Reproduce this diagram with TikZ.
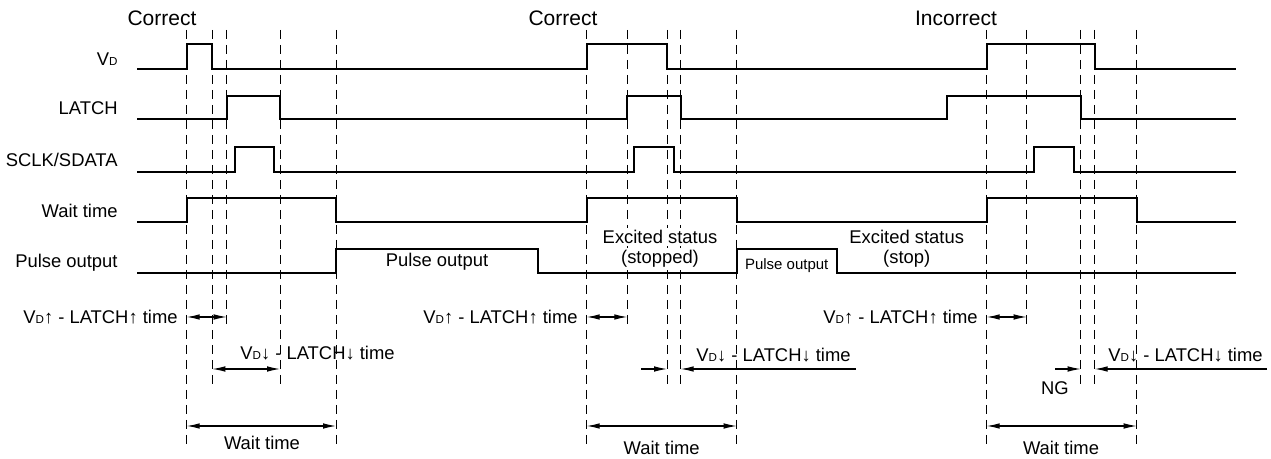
\documentclass[tikz,border=0pt]{standalone}
\usepackage{fontspec}
\setmainfont{Liberation Sans}
\usetikzlibrary{arrows.meta}
\newcommand{\vd}{V{\fontsize{5.8}{6}\selectfont D}}
\tikzset{
    >={Latex[length=6.5pt,width=2.8pt]}, % narrow filled arrow heads
    signal/.style={line width=1.1pt}, % the waveforms
    guide/.style={line width=0.45pt, dash pattern=on 4.5pt off 3pt}, % vertical timing marks
    dim/.style={line width=0.55pt}, % dimension lines
    every node/.style={font=\fontsize{9.2}{11}\selectfont, inner sep=1pt},
    title/.style={font=\fontsize{10.5}{12}\selectfont}, % Correct / Incorrect
    signame/.style={anchor=east}, % names on the left
    small/.style={font=\fontsize{7.5}{9}\selectfont},
}
\begin{document}
\begin{tikzpicture}[x=0.5pt,y=-0.5pt]
\useasboundingbox (0,0) rectangle (1271,459);
% timing marks
\foreach \x/\e in {186.7/448, 212.3/387, 226.7/327, 280/387, 336/448,
                   586.7/448, 627.3/327, 667/387, 680.7/387, 736.7/448,
                   986.7/448, 1026.7/327, 1080.7/387, 1094.7/387, 1136.7/448}
  \draw[guide] (\x,30) -- (\x,\e);

% titles
\node[title] (c1) at (162,18) {Correct};
\node[title] (c2) at (563,18) {Correct};
\node[title] (c3) at (956,18) {Incorrect};

% signal names
\node[signame] (nvd)    at (120,59)  {\vd};
\node[signame] (nlatch) at (120,108) {LATCH};
\node[signame] (nsclk)  at (120,160) {SCLK/SDATA};
\node[signame] (nwait)  at (120,211) {Wait time};
\node[signame] (npulse) at (120,263) {Pulse output};

% waveforms
\draw[signal] (137,69) -| (186.7,44) -| (212.3,69) -| (586.7,44) -| (667,69)
  -| (986.7,44) -| (1094.7,69) -- (1236,69);
\draw[signal] (137,119) -| (226.7,96) -| (280,119) -| (627.3,96) -| (680.7,119)
  -| (946.7,96) -| (1080.7,119) -- (1236,119);
\draw[signal] (137,172) -| (235,147) -| (274,172) -| (634.3,147) -| (674.3,172)
  -| (1034,147) -| (1074,172) -- (1236,172);
\draw[signal] (137,222) -| (186.7,198) -| (336,222) -| (586.7,198) -| (736.7,222)
  -| (986.7,198) -| (1136.7,222) -- (1236,222);
\draw[signal] (137,273) -| (336,249) -| (538.3,273) -| (736.7,249) -| (836.7,273)
  -- (1236,273);

% texts on the pulse output
\node (p1) at (437,262) {Pulse output};
\node[fill=white] (ex2) at (660,237) {Excited status};
\node[fill=white] (st2) at (660,259) {(stopped)};
\node[small] (p2) at (786.7,266) {Pulse output};
\node (ex3) at (906.7,237) {Excited status};
\node (st3) at (906.7,259) {(stop)};

% VD up - LATCH up
\coordinate (u1l) at (186.7,317); \coordinate (u1r) at (226.7,317);
\coordinate (u2l) at (586.7,317); \coordinate (u2r) at (627.3,317);
\coordinate (u3l) at (986.7,317); \coordinate (u3r) at (1026.7,317);
\draw[dim,<->] (u1l) -- (u1r);
\draw[dim,<->] (u2l) -- (u2r);
\draw[dim,<->] (u3l) -- (u3r);
\node[anchor=east] (tu1) at (180,317) {\vd↑ - LATCH↑ time};
\node[anchor=east] (tu2) at (580,317) {\vd↑ - LATCH↑ time};
\node[anchor=east] (tu3) at (980,317) {\vd↑ - LATCH↑ time};

% VD down - LATCH down
\coordinate (d1l) at (212.3,369); \coordinate (d1r) at (280,369);
\draw[dim,<->] (d1l) -- (d1r);
\node[anchor=west] (td1) at (238,353) {\vd↓ - LATCH↓ time};
\coordinate (d2a) at (641,369);  \coordinate (d2l) at (667,369);
\coordinate (d2r) at (680.7,369); \coordinate (d2b) at (856,369);
\draw[dim,->] (d2a) -- (d2l);
\draw[dim,->] (d2b) -- (d2r);
\node[anchor=west] (td2) at (694,355) {\vd↓ - LATCH↓ time};
\coordinate (d3a) at (1055,369);  \coordinate (d3l) at (1080.7,369);
\coordinate (d3r) at (1094.7,369); \coordinate (d3b) at (1267,369);
\draw[dim,->] (d3a) -- (d3l);
\draw[dim,->] (d3b) -- (d3r);
\node[anchor=west] (td3) at (1106,355) {\vd↓ - LATCH↓ time};
\node (ng) at (1055,388) {NG};

% wait time
\coordinate (w1l) at (186.7,426); \coordinate (w1r) at (336,426);
\coordinate (w2l) at (586.7,426); \coordinate (w2r) at (736.7,426);
\coordinate (w3l) at (986.7,426); \coordinate (w3r) at (1136.7,426);
\draw[dim,<->] (w1l) -- (w1r);
\draw[dim,<->] (w2l) -- (w2r);
\draw[dim,<->] (w3l) -- (w3r);
\node (tw1) at (262,443) {Wait time};
\node (tw2) at (661.7,448) {Wait time};
\node (tw3) at (1061,448) {Wait time};
\end{tikzpicture}
\end{document}
